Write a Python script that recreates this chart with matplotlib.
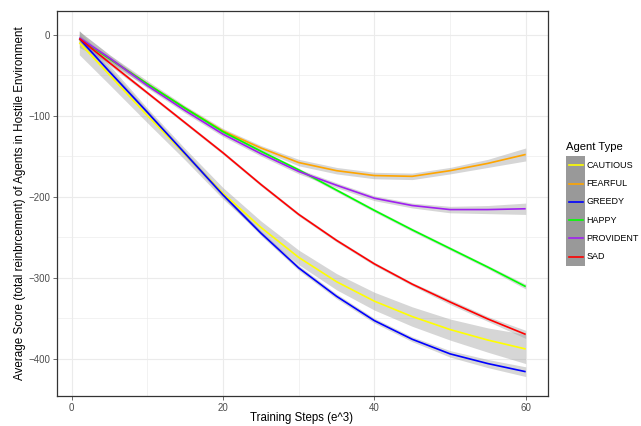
import matplotlib
matplotlib.use("Agg")
import matplotlib.pyplot as plt
from matplotlib.patches import Rectangle
from matplotlib.lines import Line2D

plt.rcParams["font.family"] = ["Liberation Sans", "DejaVu Sans"]

W, H = 641, 426

# training steps (e^3) at which the smoothed curves were read
steps = [1, 5, 10, 15, 20, 25, 30, 35, 40, 45, 50, 55, 60]

agents = ["CAUTIOUS", "FEARFUL", "GREEDY", "HAPPY", "PROVIDENT", "SAD"]
colors = ["#FFFF00", "#FFA500", "#0000FF", "#00FF00", "#A020F0", "#FF0000"]

cautious = [-10, -50, -100, -148, -196, -238, -275, -305, -329, -348, -364, -377, -388]
fearful = [-6, -30, -61, -91, -119, -140, -158, -168, -174, -175, -168, -159, -148]
greedy = [-5, -46, -96, -147, -198, -245, -288, -323, -353, -376, -394, -406, -416]
happy = [-5, -30, -61, -91, -120, -144, -167, -192, -217, -241, -264, -287, -311]
provident = [-4, -29, -63, -94, -123, -147, -169, -186, -202, -211, -216, -216, -215]
sad = [-5, -35, -72, -109, -146, -185, -222, -254, -283, -308, -330, -351, -370]

# half width of the grey confidence band
cautious_se = [15, 12, 9, 7, 7, 8, 9, 10, 11, 12, 13, 15, 18]
fearful_se = [10, 5, 4, 3, 3, 3, 4, 4, 4, 4, 4, 5, 8]
greedy_se = [6, 4, 3, 3, 3, 3, 3, 3, 3, 3, 4, 5, 6]
happy_se = [4, 3, 2, 2, 2, 2, 2, 2, 2, 2, 2, 2, 3]
provident_se = [8, 4, 3, 3, 3, 3, 3, 3, 3, 3, 4, 5, 7]
sad_se = [4, 3, 2, 2, 2, 2, 2, 2, 2, 2, 3, 3, 5]

series = [cautious, fearful, greedy, happy, provident, sad]
bands = [cautious_se, fearful_se, greedy_se, happy_se, provident_se, sad_se]

x_major = [0, 20, 40, 60]
x_minor = [10, 30, 50]
y_major = [-400, -300, -200, -100, 0]
y_minor = [-350, -250, -150, -50]


def fx(px):
    return px / W


def fy(py):
    return 1 - py / H


fig = plt.figure(figsize=(W / 100, H / 100), dpi=100)
ax = fig.add_axes([fx(57), fy(396), (548 - 57) / W, (396 - 11) / H])

for values, se in zip(series, bands):
    lo = [v - s for v, s in zip(values, se)]
    hi = [v + s for v, s in zip(values, se)]
    ax.fill_between(steps, lo, hi, color="#999999", alpha=0.4, linewidth=0, zorder=2)

for values, color in zip(series, colors):
    ax.plot(steps, values, color=color, linewidth=1.2, zorder=3, solid_capstyle="butt")

ax.set_xlim(-1.95, 62.95)
ax.set_ylim(-446, 29)
ax.set_xticks(x_major)
ax.set_xticks(x_minor, minor=True)
ax.set_yticks(y_major)
ax.set_yticks(y_minor, minor=True)
ax.grid(True, which="major", color="#EBEBEB", linewidth=0.8, zorder=0)
ax.grid(True, which="minor", color="#EBEBEB", linewidth=0.45, zorder=0)
ax.set_axisbelow(True)
ax.tick_params(which="major", length=2.8, width=0.5, color="#333333",
               labelsize=7, labelcolor="#4D4D4D", pad=2)
ax.tick_params(which="minor", length=0)
for sp in ax.spines.values():
    sp.set_color("#333333")
    sp.set_linewidth(0.9)

fig.text(fx(302), fy(418), "Training Steps (e^3)", ha="center", va="center", fontsize=8.3)
fig.text(fx(20.5), fy(203), "Average Score (total reinbrcement) of Agents in Hostile Environment",
         ha="center", va="center", rotation=90, fontsize=8.4)

# legend drawn by hand to get the continuous grey key strip
fig.text(fx(566), fy(147.5), "Agent Type", ha="left", va="center", fontsize=8.1)
fig.add_artist(Rectangle((fx(566), fy(266)), 19 / W, 110 / H,
                         transform=fig.transFigure, facecolor="#999999", edgecolor="none"))
for i, (name, color) in enumerate(zip(agents, colors)):
    yc = 165.2 + i * 18.3
    fig.add_artist(Line2D([fx(568.5), fx(582.5)], [fy(yc), fy(yc)],
                          transform=fig.transFigure, color=color, linewidth=1.2))
    fig.text(fx(586.5), fy(yc), name, ha="left", va="center", fontsize=6.5)

fig.savefig("out.png", dpi=100)
